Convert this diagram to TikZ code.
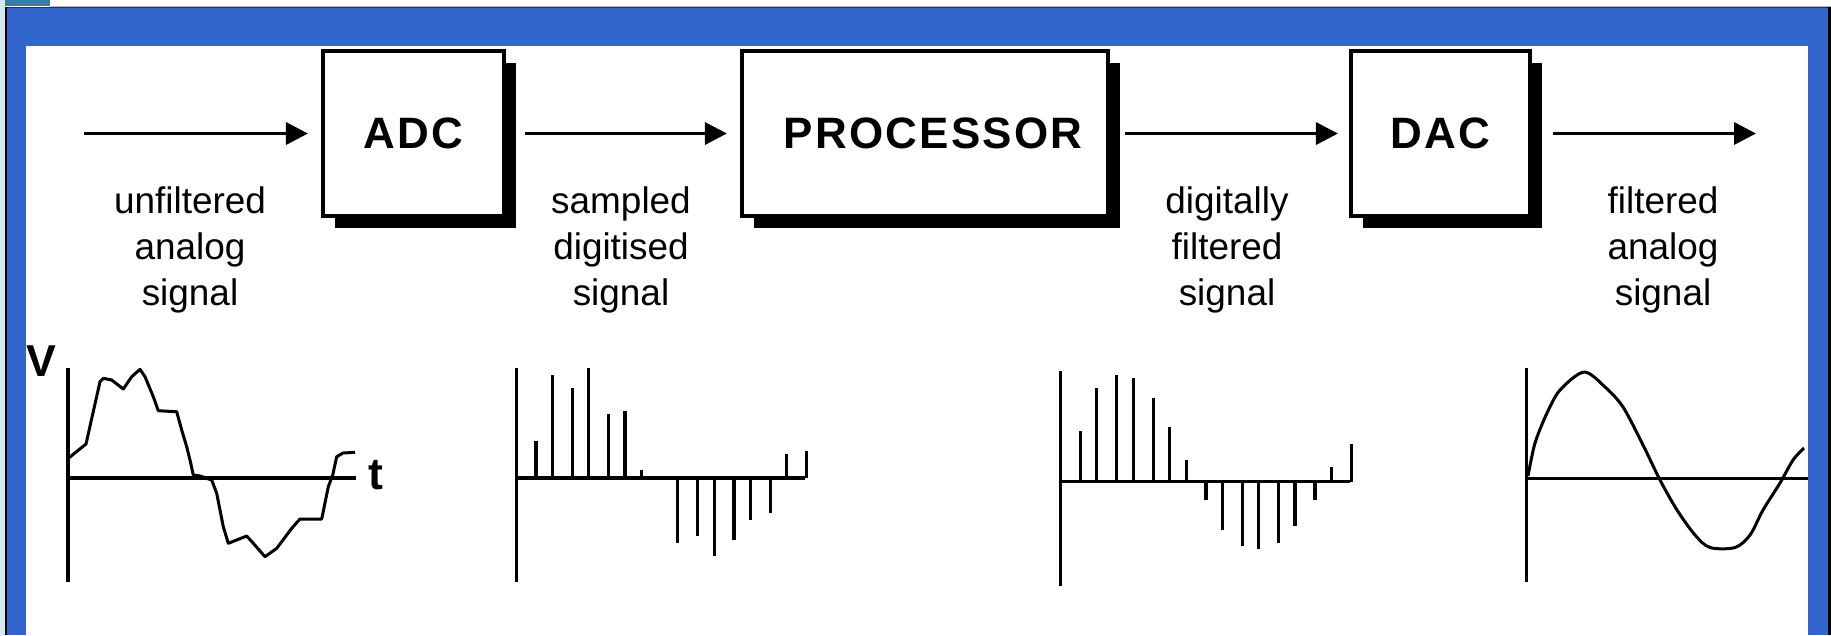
\documentclass[tikz,border=0pt]{standalone}
\usepackage{fontspec}
\setmainfont{Liberation Sans}
\usetikzlibrary{arrows.meta,shadows}
\definecolor{frameblue}{HTML}{3366CC}
\definecolor{tealsq}{HTML}{3A7CA5}
\definecolor{lightstrip}{HTML}{D8E8F0}
\begin{document}
\begin{tikzpicture}[x=0.01cm,y=-0.01cm,
  blk/.style={draw=black, line width=0.04cm, fill=white, inner sep=0pt, minimum height=1.65cm,
    font=\fontsize{12.5}{14}\selectfont\bfseries\addfontfeature{LetterSpace=5},
    drop shadow={shadow xshift=0.12cm, shadow yshift=-0.12cm, fill=black, opacity=1}},
  lbl/.style={align=center, inner sep=0pt, anchor=north, font=\fontsize{10.5}{13.04}\selectfont},
  axlbl/.style={inner sep=0pt, font=\fontsize{12.7}{14}\selectfont\bfseries},
  arr/.style={line width=0.035cm, -{Triangle[length=0.22cm,width=0.22cm]}},
  ax/.style={line width=0.035cm},
  stem/.style={line width=0.035cm},
  wave/.style={line width=0.03cm, line join=round},
]
\useasboundingbox (0,0) rectangle (1831,635);
% window frame
\fill[white] (0,0) rectangle (1831,635);
\fill[lightstrip] (0,0) rectangle (5,635);
\fill[tealsq] (5,0) rectangle (50,6);
\fill[gray!55] (50,6) rectangle (1831,7.3);
\fill[black!80] (5,7) rectangle (1831,8.3);
\fill[black] (5,7) rectangle (7,635);
\fill[frameblue] (7,8.3) rectangle (1828,635);
\fill[black] (1828,7) rectangle (1831,635);
\fill[white] (26,46) rectangle (1808,635);

% blocks
\node[blk, minimum width=1.81cm] (adc) at (413.5,133.5) {ADC};
\node[blk, minimum width=3.66cm, text width=3.48cm, align=center] (proc) at (925,133.5) {\hspace*{0.16cm}PROCESSOR};
\node[blk, minimum width=1.79cm] (dac) at (1440.5,133.5) {DAC};

% connectors
\coordinate (in) at (84,133.5);
\coordinate (out) at (1756,133.5);
\draw[arr] (in) -- ([xshift=-0.13cm]adc.west);
\draw[arr] ([xshift=0.19cm]adc.east) -- ([xshift=-0.13cm]proc.west);
\draw[arr] ([xshift=0.15cm]proc.east) -- ([xshift=-0.11cm]dac.west);
\draw[arr] ([xshift=0.21cm]dac.east) -- (out);

% labels
\node[lbl] (l1) at (190,186) {unfiltered\\analog\\signal};
\node[lbl] (l2) at (621,186) {sampled\\digitised\\signal};
\node[lbl] (l3) at (1227,186) {digitally\\filtered\\signal};
\node[lbl] (l4) at (1663,186) {filtered\\analog\\signal};

% graph 1: unfiltered analog
\node[axlbl] (V) at (41,361) {V};
\node[axlbl] (t) at (376,475) {t};
\draw[ax] (68,368) -- (68,582);
\draw[ax] (68,478) -- (356,478);
\draw[wave] (68.3,458.3) -- (86,444) -- (100,381.7) -- (103.3,378.3) -- (111.7,380) -- (123.3,389)
  -- (131.7,376.7) -- (140,369.3) -- (145,376.7) -- (153.3,396.7) -- (158.3,410.7) -- (176.7,411.7)
  -- (181.7,430) -- (186.7,446.7) -- (190,460) -- (193.3,475) -- (200,476) -- (211.7,480)
  -- (216.7,493.3) -- (223.3,526.7) -- (228.3,543.3) -- (246.7,536) -- (253.3,543.3) -- (265,556.7)
  -- (276.7,548.3) -- (291.7,528.3) -- (300,519) -- (321.7,519) -- (328.3,486.7) -- (332.7,475)
  -- (336.7,456.7) -- (343,453) -- (355,452.3);

% graph 2: sampled digitised
\draw[ax] (516.7,368) -- (516.7,582);
\draw[ax] (516.7,478) -- (805,478);
\foreach \x/\y in {536/441, 552.3/375, 572.3/388.3, 588.3/368.3, 608.3/414.3, 625/411, 641.7/470,
  677.7/542.7, 697.3/536, 714.3/556, 734/540, 750.3/520, 770.3/512.7, 786.3/454, 806.3/451}
  \draw[stem] (\x,478) -- (\x,\y);

% graph 3: digitally filtered
\draw[ax] (1060.3,371) -- (1060.3,585.7);
\draw[ax] (1060.3,481.7) -- (1350,481.7);
\foreach \x/\y in {1080.3/431, 1096.7/388, 1116.7/375, 1133.3/378, 1153.3/398, 1169.3/427, 1186.3/460,
  1206/500, 1222.3/530, 1242.3/546, 1258.3/549, 1278.3/543, 1295/526, 1315/500, 1331.3/466.7, 1351.3/444}
  \draw[stem] (\x,481.7) -- (\x,\y);

% graph 4: filtered analog
\draw[ax] (1526.3,368) -- (1526.3,582);
\draw[ax] (1526.3,478.3) -- (1808,478.3);
\draw[wave] plot[smooth, tension=0.5] coordinates {(1528,476) (1535,443) (1547,413) (1560,390)
  (1584,372) (1605,387) (1623,407) (1643,445) (1660,480) (1677,510) (1695,535) (1710,547.5)
  (1735,547.5) (1750,535) (1763,510) (1780,483) (1793,460) (1804,448)};
\end{tikzpicture}
\end{document}
